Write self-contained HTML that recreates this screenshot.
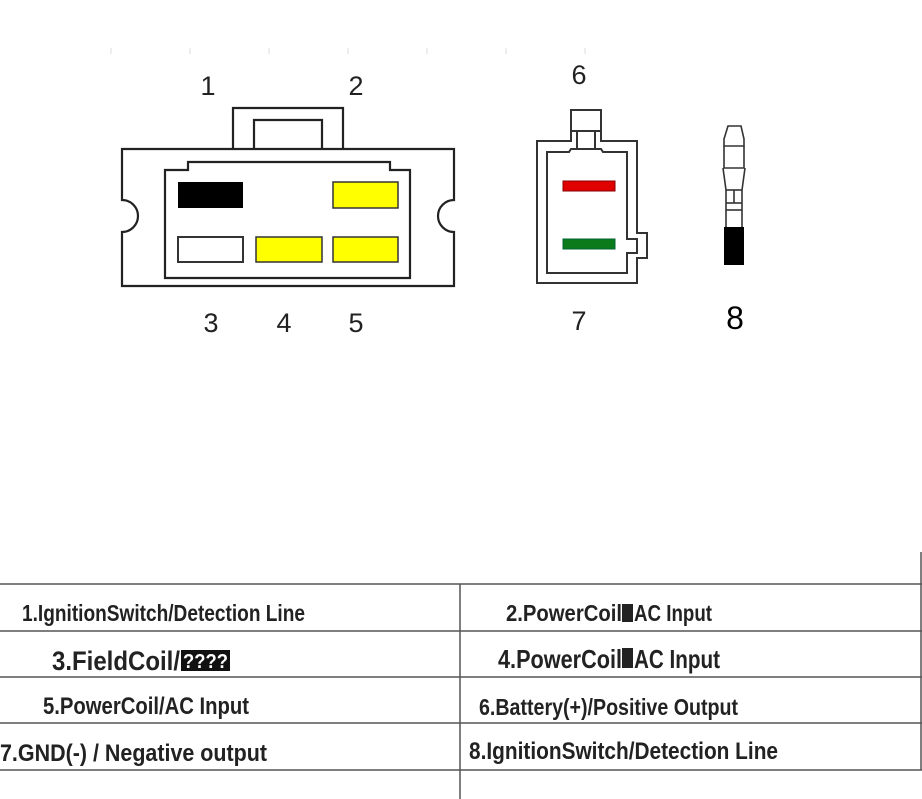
<!DOCTYPE html>
<html><head><meta charset="utf-8"><style>
html,body{margin:0;padding:0;background:#fff;width:922px;height:799px;overflow:hidden}
svg{display:block}
text{font-family:"Liberation Sans Narrow","Liberation Sans",sans-serif;fill:#222;font-weight:bold}
.n{font-family:"Liberation Sans",sans-serif;font-size:27px;fill:#222;font-weight:normal}
</style></head><body>
<svg width="922" height="799" viewBox="0 0 922 799" xmlns="http://www.w3.org/2000/svg">
<g stroke="#ddd" stroke-width="1">
<line x1="111" y1="48" x2="111" y2="54"/><line x1="190" y1="48" x2="190" y2="54"/><line x1="269" y1="48" x2="269" y2="54"/><line x1="348" y1="48" x2="348" y2="54"/><line x1="427" y1="48" x2="427" y2="54"/><line x1="506" y1="48" x2="506" y2="54"/><line x1="585" y1="48" x2="585" y2="54"/>
</g>
<!-- main connector -->
<g fill="none" stroke="#222" stroke-width="2.2">
<path d="M122,149 H454 V200 A15,15 0 0 0 454,232 V286 H122 V232 A15,15 0 0 0 122,200 Z"/>
<path d="M233,149 V108 H343 V149"/>
<path d="M254,149 V120 H322 V149"/>
<path d="M165,278 V170 H188 V162 H390 V170 H410 V278 Z"/>
</g>
<rect x="178" y="182" width="65" height="26" fill="#000"/>
<rect x="333" y="182" width="65" height="26" fill="#ffff00" stroke="#333" stroke-width="1.5"/>
<rect x="178" y="237" width="65" height="25" fill="#fff" stroke="#333" stroke-width="2"/>
<rect x="256" y="237" width="66" height="25" fill="#ffff00" stroke="#333" stroke-width="1.5"/>
<rect x="333" y="237" width="65" height="25" fill="#ffff00" stroke="#333" stroke-width="1.5"/>
<text class="n" x="208" y="95" text-anchor="middle">1</text>
<text class="n" x="356" y="95" text-anchor="middle">2</text>
<text class="n" x="211" y="332" text-anchor="middle">3</text>
<text class="n" x="284" y="332" text-anchor="middle">4</text>
<text class="n" x="356" y="332" text-anchor="middle">5</text>
<!-- small connector -->
<g fill="none" stroke="#333" stroke-width="2">
<path d="M537,141 H571 V110 H601 V141 H637 V233 H647 V258 H637 V283 H537 Z"/>
<path d="M547,152 H569 L571,149 H601 L603,152 H627 V239 H637 V253 H627 V273 H547 Z"/>
<line x1="571" y1="131" x2="601" y2="131"/>
<line x1="577" y1="131" x2="577" y2="149"/><line x1="595" y1="131" x2="595" y2="149"/>
</g>
<rect x="563" y="181" width="52" height="10" fill="#e00000" stroke="#800" stroke-width="1"/>
<rect x="563" y="239" width="52" height="10" fill="#0a7a1a" stroke="#063" stroke-width="1"/>
<text class="n" x="579" y="84" text-anchor="middle">6</text>
<text class="n" x="579" y="330" text-anchor="middle">7</text>
<text class="n" x="735" y="329" text-anchor="middle" style="font-size:32px;fill:#000">8</text>
<!-- terminal 8 -->
<g fill="none" stroke="#333" stroke-width="1.6">
<path d="M728,126 H741 L744,139 V146 H724 V139 Z"/>
<path d="M724,146 V168 H744 V146"/>
<path d="M723,168 L726,190 V227 M745,168 L742,190 V227"/>
<line x1="726" y1="190" x2="742" y2="190"/>
<line x1="726" y1="203" x2="742" y2="203"/>
<line x1="734" y1="190" x2="734" y2="203"/>
<line x1="726" y1="210" x2="742" y2="210"/>
</g>
<rect x="724" y="227" width="20" height="38" fill="#000"/>
<!-- table -->
<g stroke="#555" stroke-width="1.5">
<line x1="0" y1="584" x2="922" y2="584"/>
<line x1="0" y1="631" x2="922" y2="631"/>
<line x1="0" y1="677" x2="922" y2="677"/>
<line x1="0" y1="723" x2="922" y2="723"/>
<line x1="0" y1="770" x2="922" y2="770"/>
<line x1="460" y1="584" x2="460" y2="799"/>
<line x1="921" y1="552" x2="921" y2="770"/>
</g>
<text x="22" y="621" font-size="23" textLength="283" lengthAdjust="spacingAndGlyphs">1.IgnitionSwitch/Detection Line</text>
<text x="506" y="621" font-size="23" textLength="116" lengthAdjust="spacingAndGlyphs">2.PowerCoil</text>
<rect x="622" y="604" width="11" height="18" fill="#222"/>
<text x="634" y="621" font-size="23" textLength="78" lengthAdjust="spacingAndGlyphs">AC Input</text>
<text x="52" y="670" font-size="27" textLength="128" lengthAdjust="spacingAndGlyphs">3.FieldCoil/</text>
<rect x="181" y="650" width="49" height="21" fill="#111"/>
<text x="183" y="668" font-size="20" textLength="45" lengthAdjust="spacingAndGlyphs" style="fill:#fff">????</text>
<text x="498" y="668" font-size="26" textLength="124" lengthAdjust="spacingAndGlyphs">4.PowerCoil</text>
<rect x="622" y="648" width="11" height="20" fill="#222"/>
<text x="634" y="668" font-size="26" textLength="86" lengthAdjust="spacingAndGlyphs">AC Input</text>
<text x="43" y="714" font-size="24" textLength="206" lengthAdjust="spacingAndGlyphs">5.PowerCoil/AC Input</text>
<text x="479" y="715" font-size="23" textLength="259" lengthAdjust="spacingAndGlyphs">6.Battery(+)/Positive Output</text>
<text x="0" y="761" font-size="24" textLength="267" lengthAdjust="spacingAndGlyphs">7.GND(-) / Negative output</text>
<text x="469" y="759" font-size="24" textLength="309" lengthAdjust="spacingAndGlyphs">8.IgnitionSwitch/Detection Line</text>
</svg>
</body></html>
